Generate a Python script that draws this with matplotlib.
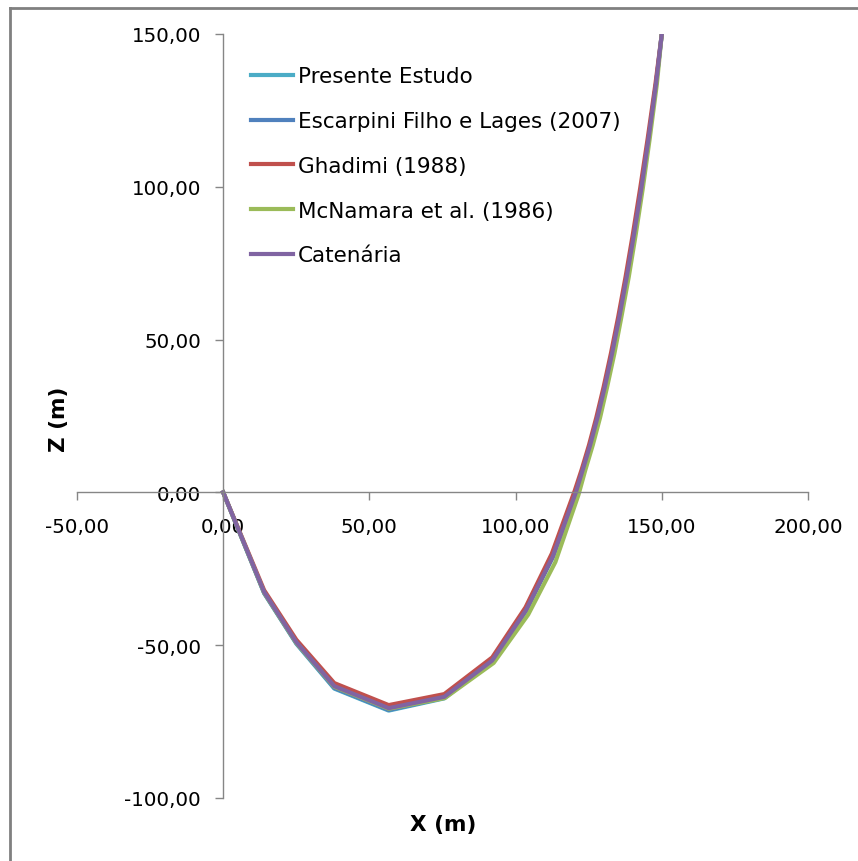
import numpy as np
import matplotlib
matplotlib.use('Agg')
import matplotlib.pyplot as plt
from matplotlib.ticker import FuncFormatter, MultipleLocator
from matplotlib.lines import Line2D

# ---------------------------------------------------------------------------
# Riser configuration (X horizontal, Z vertical), metres
# ---------------------------------------------------------------------------
x_cat = [0.0, 14.0, 25.0, 38.0, 56.6, 75.6, 92.0, 103.5, 112.7, 120.6,
         123.0, 125.5, 128.0, 130.5, 133.0, 135.5, 138.0, 140.5, 143.0,
         145.5, 148.0, 150.0]
z_cat = [0.0, -32.6, -49.0, -63.4, -70.6, -66.9, -55.0, -38.6, -21.0, 0.0,
         7.5, 15.5, 24.5, 34.5, 45.5, 57.5, 70.5, 84.5, 99.5,
         116.0, 133.5, 150.0]

x_presente = [0.0, 14.0, 25.0, 38.0, 56.6, 75.6, 92.0, 103.5, 112.7, 120.6,
              123.0, 125.5, 128.0, 130.5, 133.0, 135.5, 138.0, 140.5, 143.0,
              145.5, 148.0, 150.0]
z_presente = [0.0, -33.0, -49.5, -64.2, -71.4, -67.4, -55.3, -38.8, -21.2, 0.0,
              7.5, 15.5, 24.5, 34.5, 45.5, 57.5, 70.5, 84.5, 99.5,
              116.0, 133.5, 150.0]

x_escarpini = [0.0, 14.0, 25.0, 38.0, 56.6, 75.6, 92.0, 103.5, 112.7, 120.6,
               123.0, 125.5, 128.0, 130.5, 133.0, 135.5, 138.0, 140.5, 143.0,
               145.5, 148.0, 150.0]
z_escarpini = [0.0, -32.9, -49.3, -64.0, -71.2, -67.2, -55.2, -38.7, -21.1, 0.0,
               7.5, 15.5, 24.5, 34.5, 45.5, 57.5, 70.5, 84.5, 99.5,
               116.0, 133.5, 150.0]

x_ghadimi = [0.0, 14.0, 25.0, 38.0, 56.6, 75.6, 92.0, 103.4, 112.4, 120.2,
             122.6, 125.1, 127.6, 130.1, 132.6, 135.1, 137.6, 140.1, 142.6,
             145.2, 147.8, 150.0]
z_ghadimi = [0.0, -32.0, -48.2, -62.4, -69.6, -66.0, -54.0, -37.6, -20.0, 0.5,
             7.5, 15.5, 24.5, 34.5, 45.5, 57.5, 70.5, 84.5, 99.5,
             116.0, 133.5, 150.0]

x_mcnamara = [0.0, 14.0, 25.0, 38.0, 56.6, 75.8, 92.5, 104.3, 113.6, 121.5,
              123.9, 126.4, 128.9, 131.3, 133.8, 136.2, 138.7, 141.1, 143.5,
              145.9, 148.3, 150.0]
z_mcnamara = [0.0, -32.8, -49.2, -63.6, -70.8, -67.3, -55.8, -40.0, -22.8, -0.8,
              7.5, 15.5, 24.5, 34.5, 45.5, 57.5, 70.5, 84.5, 99.5,
              116.0, 133.5, 150.0]

labels = ['Presente Estudo', 'Escarpini Filho e Lages (2007)',
          'Ghadimi (1988)', 'McNamara et al. (1986)', 'Catenária']
colors = ['#4BACC6', '#4F81BD', '#C0504D', '#9BBB59', '#8064A2']

series = [(x_presente, z_presente), (x_escarpini, z_escarpini),
          (x_ghadimi, z_ghadimi), (x_mcnamara, z_mcnamara), (x_cat, z_cat)]

plt.rcParams['font.family'] = ['DejaVu Sans']
AX_GRAY = '#868686'

fig = plt.figure(figsize=(8.58, 8.62), dpi=100)
ax = fig.add_axes([77 / 858, 1 - 799 / 862, (808 - 77) / 858, (799 - 35) / 862])

for (xs, zs), lab, col in zip(series, labels, colors):
    ax.plot(xs, zs, color=col, linewidth=3.0, label=lab, solid_joinstyle='round')

ax.set_xlim(-50, 200)
ax.set_ylim(-100, 150)
ax.xaxis.set_major_locator(MultipleLocator(50))
ax.yaxis.set_major_locator(MultipleLocator(50))

fmt = FuncFormatter(lambda v, pos: f'{v:.2f}'.replace('.', ','))
ax.xaxis.set_major_formatter(fmt)
ax.yaxis.set_major_formatter(fmt)

# axes cross at the origin
ax.spines['left'].set_position(('data', 0))
ax.spines['bottom'].set_position(('data', 0))
ax.spines['top'].set_visible(False)
ax.spines['right'].set_visible(False)
for s in ('left', 'bottom'):
    ax.spines[s].set_color(AX_GRAY)
    ax.spines[s].set_linewidth(1.0)

ax.tick_params(direction='out', length=6, width=1.0, color=AX_GRAY,
               labelsize=14.3, labelcolor='black')
ax.tick_params(axis='y', pad=10)
ax.tick_params(axis='x', pad=12)

leg = ax.legend(loc='upper left', bbox_to_anchor=(0.226, 0.969), frameon=False,
                fontsize=15.5, handlelength=1.95, handletextpad=0.22,
                labelspacing=1.15, borderaxespad=0)

fig.text(59 / 858, 1 - 419 / 862, 'Z (m)', rotation=90, ha='center', va='center',
         fontsize=15.5, fontweight='bold')
fig.text(443 / 858, 1 - 825 / 862, 'X (m)', ha='center', va='center',
         fontsize=15.5, fontweight='bold')

# chart-area border along the top and left edges
fig.add_artist(Line2D([10 / 858, 10 / 858], [0, 1 - 9 / 862], color='#808080',
                      linewidth=2.0, transform=fig.transFigure))
fig.add_artist(Line2D([10 / 858, 1], [1 - 9 / 862, 1 - 9 / 862], color='#808080',
                      linewidth=2.0, transform=fig.transFigure))

fig.savefig('out.png', dpi=100)
